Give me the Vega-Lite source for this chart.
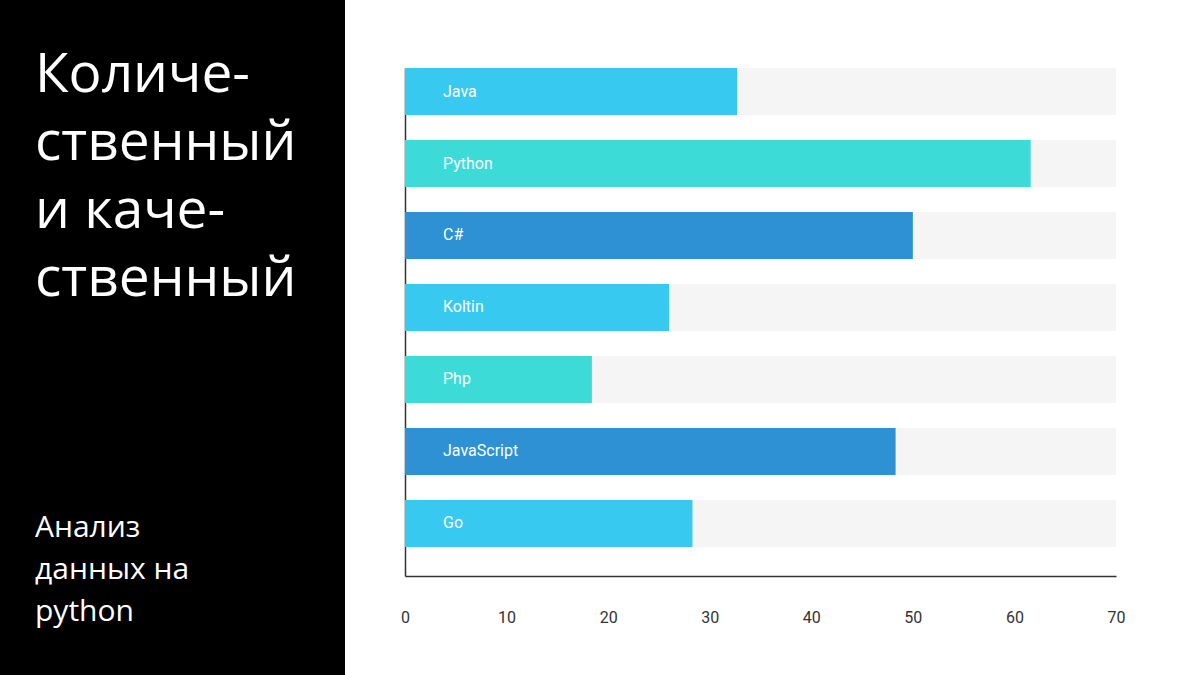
{
  "$schema": "https://vega.github.io/schema/vega-lite/v6.json",
  "background": "white",
  "padding": 0,
  "spacing": 55,
  "config": {"view": {"stroke": null}},
  "datasets": {
    "langs": [
      {"language": "Java", "value": 32.7},
      {"language": "Python", "value": 61.6},
      {"language": "C#", "value": 50.0},
      {"language": "Koltin", "value": 26.0},
      {"language": "Php", "value": 18.4},
      {"language": "JavaScript", "value": 48.3},
      {"language": "Go", "value": 28.3}
    ]
  },
  "hconcat": [
    {
      "width": 345,
      "height": 675,
      "view": {"fill": "black", "stroke": null},
      "title": {
        "text": ["Количе-", "ственный", "и каче-", "ственный"],
        "subtitle": ["Анализ", "данных на", "python"],
        "orient": "bottom",
        "anchor": "start",
        "frame": "group",
        "offset": -626,
        "dx": 35,
        "font": "Open Sans",
        "fontSize": 55,
        "fontWeight": "normal",
        "lineHeight": 68,
        "color": "white",
        "subtitleFont": "Open Sans",
        "subtitleFontSize": 30,
        "subtitleColor": "white",
        "subtitleLineHeight": 42,
        "subtitlePadding": 205
      },
      "data": {"name": "langs"},
      "mark": {"type": "point", "opacity": 0},
      "encoding": {}
    },
    {
      "width": 711,
      "height": 576,
      "data": {"name": "langs"},
      "encoding": {
        "y": {
          "field": "language",
          "type": "nominal",
          "sort": null,
          "scale": {"range": [68, 576], "paddingInner": 0.3472, "paddingOuter": 0.2014, "align": 0},
          "axis": {"title": null, "labels": false, "ticks": false, "domainColor": "#333333", "domainWidth": 1.5, "grid": false}
        }
      },
      "layer": [
        {
          "mark": {"type": "bar", "color": "#f5f5f5"},
          "encoding": {
            "x": {
              "datum": 70,
              "type": "quantitative",
              "scale": {"domain": [0, 70], "nice": false},
              "axis": {
                "title": null,
                "values": [0, 10, 20, 30, 40, 50, 60, 70],
                "ticks": false,
                "tickSize": 0,
                "grid": false,
                "domainColor": "#333333",
                "domainWidth": 1.5,
                "labelPadding": 41,
                "labelFlush": false,
                "labelFont": "Roboto",
                "labelFontSize": 16,
                "labelColor": "#333333",
                "labelBaseline": "middle"
              }
            }
          }
        },
        {
          "mark": {"type": "bar"},
          "encoding": {
            "x": {"field": "value", "type": "quantitative"},
            "color": {
              "field": "language",
              "type": "nominal",
              "legend": null,
              "scale": {
                "domain": ["Java", "Python", "C#", "Koltin", "Php", "JavaScript", "Go"],
                "range": ["#38c9f0", "#3ddbd8", "#2d91d4", "#38c9f0", "#3ddbd8", "#2d91d4", "#38c9f0"]
              }
            }
          }
        },
        {
          "mark": {"type": "text", "align": "left", "baseline": "middle", "dx": 38, "color": "white", "font": "Roboto", "fontSize": 16},
          "encoding": {
            "x": {"datum": 0, "type": "quantitative"},
            "text": {"field": "language"}
          }
        }
      ]
    }
  ]
}
